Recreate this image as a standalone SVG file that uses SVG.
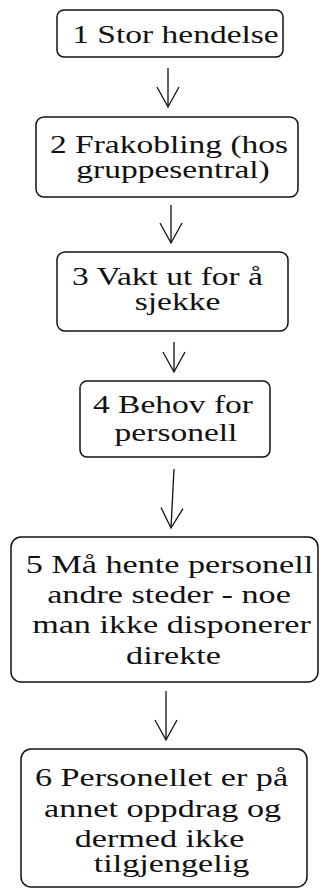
<svg xmlns="http://www.w3.org/2000/svg" width="320" height="889" viewBox="0 0 320 889">
<style>
.box{fill:#fff;stroke:#111;stroke-width:1.5}
.t{font-size:25px;fill:#111;text-anchor:middle}
.t2{font-size:25.5px}
.conn{stroke:#111;stroke-width:1.3;fill:none}
</style>
<defs>
<marker id="ah" markerUnits="userSpaceOnUse" markerWidth="20" markerHeight="22" viewBox="0 0 20 22" refX="20" refY="11" orient="auto" overflow="visible">
<path d="M0,0 L20,11 L0,22" fill="none" stroke="#111" stroke-width="1.3"/>
</marker>
</defs>
<rect width="320" height="889" fill="#fff"/>
<g id="connectors">
<line class="conn" x1="168" y1="68" x2="168" y2="107" marker-end="url(#ah)"/>
<line class="conn" x1="171" y1="205" x2="171" y2="243" marker-end="url(#ah)"/>
<line class="conn" x1="174" y1="342" x2="174" y2="372" marker-end="url(#ah)"/>
<line class="conn" x1="174" y1="469" x2="171" y2="528" marker-end="url(#ah)"/>
<line class="conn" x1="166" y1="691" x2="166" y2="740" marker-end="url(#ah)"/>
</g>
<g id="n1" font-family="Liberation Serif">
<rect class="box" x="57" y="10" width="226" height="47" rx="7"/>
<text class="t" transform="translate(175.5,43) scale(1.34,1)">1 Stor hendelse</text>
</g>
<g id="n2" font-family="Liberation Serif">
<rect class="box" x="36" y="117" width="262" height="80" rx="8"/>
<text class="t" transform="translate(169,153) scale(1.34,1)">2 Frakobling (hos</text>
<text class="t" transform="translate(173,178) scale(1.34,1)">gruppesentral)</text>
</g>
<g id="n3" font-family="Liberation Serif">
<rect class="box" x="57" y="252" width="231" height="79" rx="8"/>
<text class="t" transform="translate(167.5,285) scale(1.34,1)">3 Vakt ut for å</text>
<text class="t" transform="translate(177.5,310) scale(1.34,1)">sjekke</text>
</g>
<g id="n4" font-family="Liberation Serif">
<rect class="box" x="80" y="381" width="190" height="76" rx="7"/>
<text class="t" transform="translate(173,413) scale(1.34,1)">4 Behov for</text>
<text class="t" transform="translate(176,441) scale(1.34,1)">personell</text>
</g>
<g id="n5" font-family="Liberation Serif">
<rect class="box" x="11" y="537" width="307" height="145" rx="10"/>
<text class="t t2" transform="translate(169.5,573) scale(1.34,1)">5 Må hente personell</text>
<text class="t t2" transform="translate(169,603) scale(1.34,1)">andre steder - noe</text>
<text class="t t2" transform="translate(171.5,633) scale(1.34,1)">man ikke disponerer</text>
<text class="t t2" transform="translate(173.5,664) scale(1.34,1)">direkte</text>
</g>
<g id="n6" font-family="Liberation Serif">
<rect class="box" x="21" y="749" width="286" height="138" rx="10"/>
<text class="t t2" transform="translate(161.5,786) scale(1.34,1)">6 Personellet er på</text>
<text class="t t2" transform="translate(162.5,817) scale(1.34,1)">annet oppdrag og</text>
<text class="t t2" transform="translate(159.5,847) scale(1.34,1)">dermed ikke</text>
<text class="t t2" transform="translate(171.5,872) scale(1.34,1)">tilgjengelig</text>
</g>
</svg>
